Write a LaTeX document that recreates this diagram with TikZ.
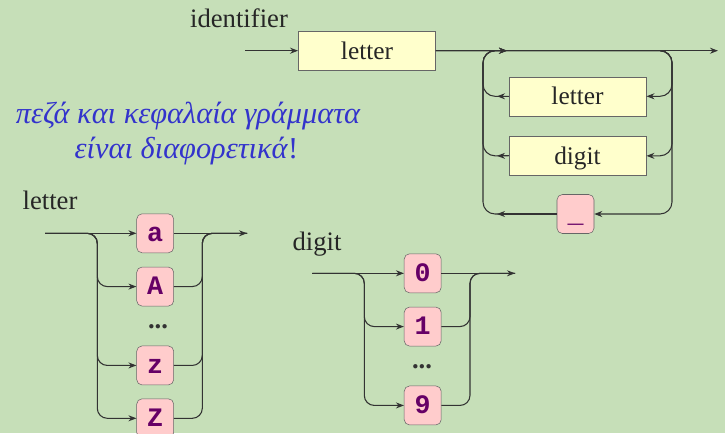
\documentclass[tikz,border=0pt]{standalone}
\usepackage{fontspec}
\setmainfont{Liberation Serif}
\setmonofont{Liberation Mono}
\usetikzlibrary{positioning}
\usetikzlibrary{arrows.meta}
\definecolor{bgcol}{RGB}{198,223,184}
\definecolor{boxyel}{RGB}{255,255,204}
\definecolor{boxpink}{RGB}{255,204,204}
\definecolor{termcol}{RGB}{102,0,102}
\definecolor{notecol}{RGB}{51,51,204}
\definecolor{linecol}{RGB}{51,51,51}

\begin{document}
\begin{tikzpicture}[x=0.75pt, y=-0.75pt, >={Stealth[length=6pt,width=4.5pt]},
        rail/.style = {draw=linecol, line width=0.8pt},
        nonterminal/.style = {draw=black!60, fill=boxyel, minimum width=103pt, minimum height=29.25pt,
            text height=15pt, text depth=2pt, font=\fontsize{19}{22}\selectfont, text=black!85},
        terminal/.style = {draw=black!60, fill=boxpink, rounded corners=4pt, minimum width=27.75pt,
            minimum height=29.25pt, text height=15pt, text depth=2.5pt,
            font=\fontsize{20}{24}\selectfont\ttfamily\bfseries, text=termcol},
        rulename/.style = {font=\fontsize{20}{24}\selectfont, text=black!85},
        note/.style = {anchor=base, font=\fontsize{22.8}{27}\selectfont\itshape, text=notecol}]
        \useasboundingbox (0,0) rectangle (725,433);
        \fill[bgcol] (0,0) rectangle (725,433);

        %identifier
        \node[rulename] (ident) at (239,18) {identifier};
        \node[nonterminal] (il) at (367,50.7) {letter};
        \node[nonterminal] (iletter) at (577.5,96.3) {letter};
        \node[nonterminal] (idigit) [below = 15pt of iletter] {digit};
        \node[terminal] (iunder) at (575.5,214) {\_};

        \coordinate (iin) at (245,50.7);
        \coordinate (iout) at (718,50.7);
        \coordinate (ivl) at (483,50.7);
        \coordinate (ivr) at (672,50.7);
        \coordinate (itip) at (507,50.7);
        \coordinate (iback) at (497,50.7);

        \node[note] (note1) at (188,123) {πεζά και κεφαλαία γράμματα};
        \node[note] (note2) at (186.5,158) {είναι διαφορετικά\textup{!}};

        %letter
        \node[rulename] (lname) at (50,200) {letter};
        \node[terminal] (ka) at (155.2,233.3) {a};
        \node[terminal] (kA) [below = 10.3pt of ka] {A};
        \node[font=\fontsize{20}{24}\selectfont\bfseries, text=black!80] (ldots) at (158,327) {...};
        \node[terminal] (kz) [below = 29.5pt of kA] {z};
        \node[terminal] (kZ) [below = 10pt of kz] {Z};

        \coordinate (lin) at (45,233.3);
        \coordinate (lout) at (247,233.3);
        \coordinate (lsl) at (97.3,233.3);
        \coordinate (lsr) at (202.3,233.3);

        %digit
        \node[rulename] (dname) at (317,244.5) {digit};
        \node[terminal] (d0) at (422.7,273.3) {0};
        \node[terminal] (d1) [below = 10.3pt of d0] {1};
        \node[font=\fontsize{20}{24}\selectfont\bfseries, text=black!80] (ddots) at (422,367) {...};
        \node[terminal] (d9) [below = 29.5pt of d1] {9};

        \coordinate (din) at (312.3,273.3);
        \coordinate (dout) at (515,273.3);
        \coordinate (dsl) at (364.3,273.3);
        \coordinate (dsr) at (470,273.3);

        %Kanten
        \draw[rail, ->] (iin) -- (il);
        \draw[rail, ->] (il) -- (iout);
        \foreach \b in {iletter, idigit, iunder} {
            \draw[rail, ->, rounded corners=9pt] (il.east) -| (ivr |- \b) -- (\b.east);
            \draw[rail, ->] (\b.west) -- (iback |- \b);
            \draw[rail, ->, rounded corners=9pt] (\b.west) -| (ivl) -- (itip);
        }

        \draw[rail, ->] (lin) -- (ka);
        \draw[rail, ->] (ka) -- (lout);
        \foreach \k in {kA, kz, kZ} {
            \draw[rail, ->, rounded corners=7.5pt] (lin) -| (lsl |- \k) -- (\k.west);
            \draw[rail, rounded corners=7.5pt] (\k.east) -| (lsr) -- (lout);
        }

        \draw[rail, ->] (din) -- (d0);
        \draw[rail, ->] (d0) -- (dout);
        \foreach \d in {d1, d9} {
            \draw[rail, ->, rounded corners=7.5pt] (din) -| (dsl |- \d) -- (\d.west);
            \draw[rail, rounded corners=7.5pt] (\d.east) -| (dsr) -- (dout);
        }
\end{tikzpicture}
\end{document}
